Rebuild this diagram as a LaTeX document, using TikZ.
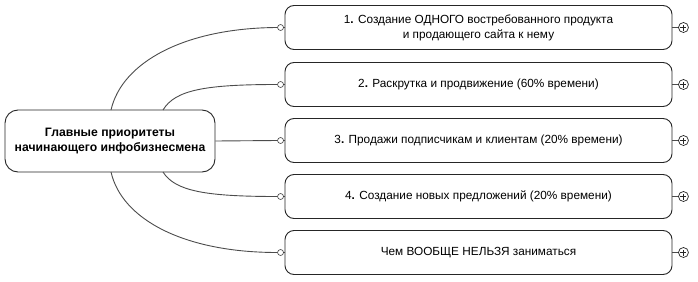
\documentclass[tikz,border=0pt]{standalone}
\usepackage{fontspec}
\setmainfont{Liberation Sans}
\begin{document}
\begin{tikzpicture}[x=1pt,y=-1pt,
  topic/.style={draw=black!85, line width=0.9pt, rounded corners=9pt, minimum width=387pt, minimum height=44pt, align=center, inner sep=2pt, font=\fontsize{11.8}{15}\selectfont},
  central/.style={draw=black!85, line width=0.9pt, rounded corners=13pt, minimum width=210pt, minimum height=62pt, align=center, font=\fontsize{12.2}{15.5}\selectfont\bfseries},
  port/.style={draw=black!75, fill=white, circle, line width=0.6pt, minimum size=6pt, inner sep=0pt},
  plus/.style={draw=black!85, circle, line width=0.7pt, minimum size=10pt, inner sep=0pt,
    path picture={\draw[black!85, line width=0.7pt] ([xshift=-3pt]path picture bounding box.center) -- ([xshift=3pt]path picture bounding box.center) ([yshift=-3pt]path picture bounding box.center) -- ([yshift=3pt]path picture bounding box.center);}},
  conn/.style={draw=black!70, line width=0.9pt}
]
\useasboundingbox (0,0) rectangle (698,281);

\node[central] (c) at (110,141) {Главные приоритеты\\начинающего инфобизнесмена};

\node[topic] (t1) at (478.5,27.5) {1\textbf{.} Создание ОДНОГО востребованного продукта\\и продающего сайта к нему};
\node[topic] (t2) at (478.5,84.5) {2\textbf{.} Раскрутка и продвижение (60\% времени)};
\node[topic] (t3) at (478.5,140.5) {3\textbf{.} Продажи подписчикам и клиентам (20\% времени)};
\node[topic] (t4) at (478.5,196.5) {4\textbf{.} Создание новых предложений (20\% времени)};
\node[topic] (t5) at (478.5,252.5) {Чем ВООБЩЕ НЕЛЬЗЯ заниматься};

\foreach \i in {1,...,5} {
  \node[port] (p\i) at ([xshift=-4pt]t\i.west) {};
  \node[plus] (q\i) at ([xshift=11pt]t\i.east) {};
  \draw[conn] (p\i) -- (t\i.west);
  \draw[conn] (t\i.east) -- (q\i);
}

\coordinate (s1) at (111,110);
\coordinate (s2) at (163,110);
\coordinate (s4) at (163,172);
\coordinate (s5) at (111,172);

\draw[conn] (s1) .. controls (122,62) and (185,28) .. (p1.west);
\draw[conn] (s2) .. controls (175,90) and (205,84.5) .. (p2.west);
\draw[conn] (c.east) -- (p3.west);
\draw[conn] (s4) .. controls (175,191) and (205,196.5) .. (p4.west);
\draw[conn] (s5) .. controls (122,220) and (185,252.5) .. (p5.west);
\end{tikzpicture}
\end{document}
